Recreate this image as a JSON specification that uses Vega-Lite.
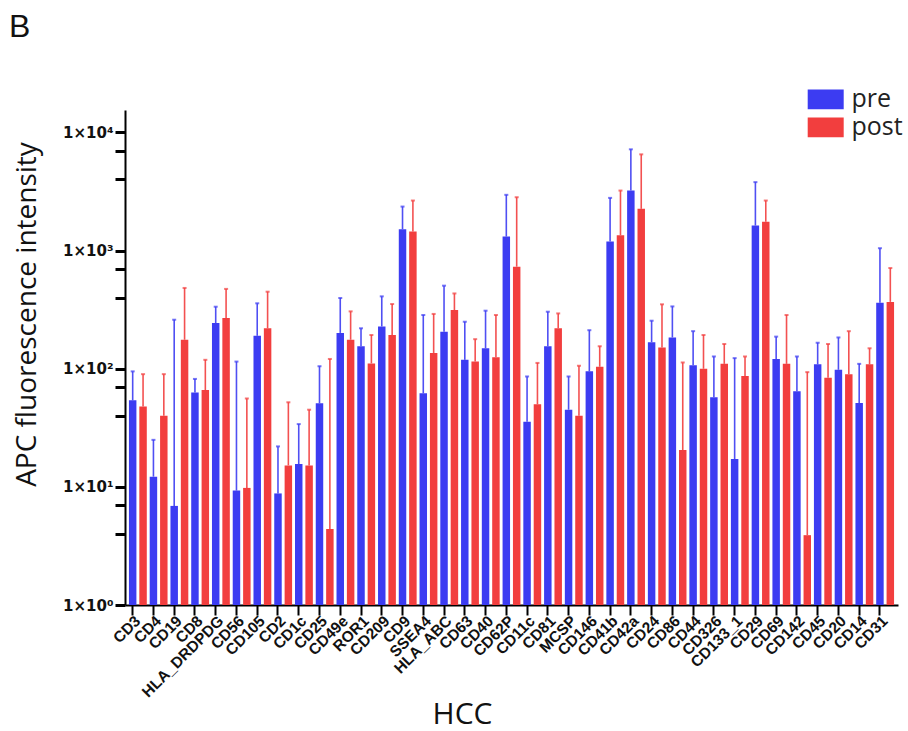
{
  "$schema": "https://vega.github.io/schema/vega-lite/v6.json",
  "width": 773,
  "height": 495,
  "autosize": {"type": "none"},
  "padding": {"left": 125, "top": 110, "right": 10, "bottom": 126},
  "background": "white",
  "config": {
    "view": {"stroke": null},
    "axis": {"grid": false},
    "axisY": {"ticks": true, "tickColor": "#000000", "tickWidth": 3, "tickSize": 10, "tickOpacity": 1}
  },
  "title": {"text": "B", "anchor": "start", "frame": "group", "orient": "top", "offset": 0, "dx": -116, "dy": -15, "baseline": "alphabetic", "fontSize": 32, "fontWeight": "normal", "font": "Liberation Sans", "color": "#111111"},
  "data": {"values": [
    {"m": "CD3", "g": "pre", "v": 54, "u": 95}, {"m": "CD3", "g": "post", "v": 48, "u": 90},
    {"m": "CD4", "g": "pre", "v": 12.2, "u": 25}, {"m": "CD4", "g": "post", "v": 40, "u": 90},
    {"m": "CD19", "g": "pre", "v": 6.9, "u": 260}, {"m": "CD19", "g": "post", "v": 176, "u": 483},
    {"m": "CD8", "g": "pre", "v": 63, "u": 82}, {"m": "CD8", "g": "post", "v": 66, "u": 119},
    {"m": "HLA_DRDPDG", "g": "pre", "v": 244, "u": 335}, {"m": "HLA_DRDPDG", "g": "post", "v": 269, "u": 474},
    {"m": "CD56", "g": "pre", "v": 9.3, "u": 115}, {"m": "CD56", "g": "post", "v": 9.8, "u": 56},
    {"m": "CD105", "g": "pre", "v": 190, "u": 358}, {"m": "CD105", "g": "post", "v": 220, "u": 449},
    {"m": "CD2", "g": "pre", "v": 8.8, "u": 22}, {"m": "CD2", "g": "post", "v": 15.2, "u": 52},
    {"m": "CD1c", "g": "pre", "v": 15.6, "u": 34}, {"m": "CD1c", "g": "post", "v": 15.2, "u": 45},
    {"m": "CD25", "g": "pre", "v": 51, "u": 105}, {"m": "CD25", "g": "post", "v": 4.4, "u": 121},
    {"m": "CD49e", "g": "pre", "v": 201, "u": 397}, {"m": "CD49e", "g": "post", "v": 176, "u": 306},
    {"m": "ROR1", "g": "pre", "v": 155, "u": 220}, {"m": "ROR1", "g": "post", "v": 111, "u": 193},
    {"m": "CD209", "g": "pre", "v": 228, "u": 410}, {"m": "CD209", "g": "post", "v": 193, "u": 353},
    {"m": "CD9", "g": "pre", "v": 1517, "u": 2360}, {"m": "CD9", "g": "post", "v": 1450, "u": 2654},
    {"m": "SSEA4", "g": "pre", "v": 62, "u": 285}, {"m": "SSEA4", "g": "post", "v": 136, "u": 291},
    {"m": "HLA_ABC", "g": "pre", "v": 206, "u": 505}, {"m": "HLA_ABC", "g": "post", "v": 314, "u": 434},
    {"m": "CD63", "g": "pre", "v": 119, "u": 250}, {"m": "CD63", "g": "post", "v": 115, "u": 178},
    {"m": "CD40", "g": "pre", "v": 149, "u": 310}, {"m": "CD40", "g": "post", "v": 125, "u": 285},
    {"m": "CD62P", "g": "pre", "v": 1315, "u": 2966}, {"m": "CD62P", "g": "post", "v": 731, "u": 2831},
    {"m": "CD11c", "g": "pre", "v": 35.6, "u": 86}, {"m": "CD11c", "g": "post", "v": 50, "u": 112},
    {"m": "CD81", "g": "pre", "v": 155, "u": 304}, {"m": "CD81", "g": "post", "v": 220, "u": 294},
    {"m": "MCSP", "g": "pre", "v": 45, "u": 86}, {"m": "MCSP", "g": "post", "v": 40, "u": 106},
    {"m": "CD146", "g": "pre", "v": 95, "u": 212}, {"m": "CD146", "g": "post", "v": 104, "u": 155},
    {"m": "CD41b", "g": "pre", "v": 1195, "u": 2795}, {"m": "CD41b", "g": "post", "v": 1350, "u": 3224},
    {"m": "CD42a", "g": "pre", "v": 3224, "u": 7200}, {"m": "CD42a", "g": "post", "v": 2258, "u": 6530},
    {"m": "CD24", "g": "pre", "v": 168, "u": 255}, {"m": "CD24", "g": "post", "v": 151, "u": 351},
    {"m": "CD86", "g": "pre", "v": 184, "u": 337}, {"m": "CD86", "g": "post", "v": 20.5, "u": 113},
    {"m": "CD44", "g": "pre", "v": 107, "u": 208}, {"m": "CD44", "g": "post", "v": 100, "u": 193},
    {"m": "CD326", "g": "pre", "v": 57.5, "u": 127}, {"m": "CD326", "g": "post", "v": 110, "u": 162},
    {"m": "CD133_1", "g": "pre", "v": 17.2, "u": 123}, {"m": "CD133_1", "g": "post", "v": 87, "u": 127},
    {"m": "CD29", "g": "pre", "v": 1630, "u": 3800}, {"m": "CD29", "g": "post", "v": 1755, "u": 2654},
    {"m": "CD69", "g": "pre", "v": 121, "u": 187}, {"m": "CD69", "g": "post", "v": 110, "u": 285},
    {"m": "CD142", "g": "pre", "v": 64.6, "u": 127}, {"m": "CD142", "g": "post", "v": 3.9, "u": 93.6},
    {"m": "CD45", "g": "pre", "v": 109, "u": 166}, {"m": "CD45", "g": "post", "v": 83.7, "u": 162},
    {"m": "CD20", "g": "pre", "v": 98, "u": 184}, {"m": "CD20", "g": "post", "v": 89.7, "u": 208},
    {"m": "CD14", "g": "pre", "v": 51.4, "u": 110}, {"m": "CD14", "g": "post", "v": 109, "u": 149},
    {"m": "CD31", "g": "pre", "v": 362, "u": 1048}, {"m": "CD31", "g": "post", "v": 368, "u": 712}
  ]},
  "encoding": {
    "x": {
      "field": "m", "type": "nominal",
      "scale": {"domain": ["CD3","CD4","CD19","CD8","HLA_DRDPDG","CD56","CD105","CD2","CD1c","CD25","CD49e","ROR1","CD209","CD9","SSEA4","HLA_ABC","CD63","CD40","CD62P","CD11c","CD81","MCSP","CD146","CD41b","CD42a","CD24","CD86","CD44","CD326","CD133_1","CD29","CD69","CD142","CD45","CD20","CD14","CD31"], "paddingInner": 0, "paddingOuter": 0.12},
      "axis": {
        "title": "HCC", "titleFont": "Open Sans", "titleFontSize": 30, "titleFontWeight": "normal", "titleColor": "#111111",
        "titleX": 337, "titleY": 118, "titleAlign": "center", "titleBaseline": "alphabetic",
        "bandPosition": 0.25,
        "domainColor": "#000000", "domainWidth": 2,
        "tickColor": "#000000", "tickWidth": 2, "tickSize": 10,
        "labelAngle": -45, "labelAlign": "right", "labelBaseline": "middle", "labelPadding": 3,
        "labelFont": "Liberation Sans", "labelFontWeight": "bold", "labelFontSize": 15.5, "labelColor": "#111111"
      }
    },
    "xOffset": {"field": "g", "type": "nominal", "scale": {"domain": ["pre", "post"], "paddingInner": 0.28, "paddingOuter": 0.14}},
    "color": {
      "field": "g", "type": "nominal",
      "scale": {"domain": ["pre", "post"], "range": ["#3c3cf2", "#f23e3e"]},
      "legend": {
        "title": null, "orient": "none", "legendX": 685.7, "legendY": -25.7, "padding": 0, "rowPadding": 0,
        "symbolType": "M-1.2,-0.66H1.2V0.66H-1.2Z", "symbolSize": 900, "symbolStrokeWidth": 0, "symbolOpacity": 1,
        "labelFont": "Open Sans", "labelFontSize": 25, "labelColor": "#222222", "labelOffset": 10.7
      }
    }
  },
  "layer": [
    {
      "mark": {"type": "rule", "strokeWidth": 1.6, "opacity": 0.9},
      "encoding": {
        "y": {
          "field": "v", "type": "quantitative", "scale": {"type": "log", "domain": [1, 15500], "nice": false},
          "axis": {
            "title": "APC fluorescence intensity", "titleFont": "Open Sans", "titleFontSize": 28, "titleFontWeight": "normal", "titleColor": "#111111",
            "titleX": -98, "titleY": 204, "titleAngle": -90, "titleAlign": "center", "titleBaseline": "middle",
            "values": [1, 4, 7, 10, 40, 70, 100, 400, 700, 1000, 4000, 7000, 10000],
            "labelExpr": "datum.value == 1 ? '1×10⁰' : datum.value == 10 ? '1×10¹' : datum.value == 100 ? '1×10²' : datum.value == 1000 ? '1×10³' : datum.value == 10000 ? '1×10⁴' : ''",
            "domainColor": "#000000", "domainWidth": 2,
            "labelFont": "DejaVu Sans", "labelFontWeight": "bold", "labelFontSize": 15, "labelColor": "#111111", "labelPadding": 2
          }
        },
        "y2": {"field": "u"}
      }
    },
    {
      "mark": {"type": "tick", "orient": "horizontal", "size": 4, "thickness": 2},
      "encoding": {
        "y": {"field": "u", "type": "quantitative"}
      }
    },
    {
      "mark": {"type": "bar"},
      "encoding": {
        "y": {"field": "v", "type": "quantitative"},
        "y2": {"datum": 1}
      }
    }
  ]
}
